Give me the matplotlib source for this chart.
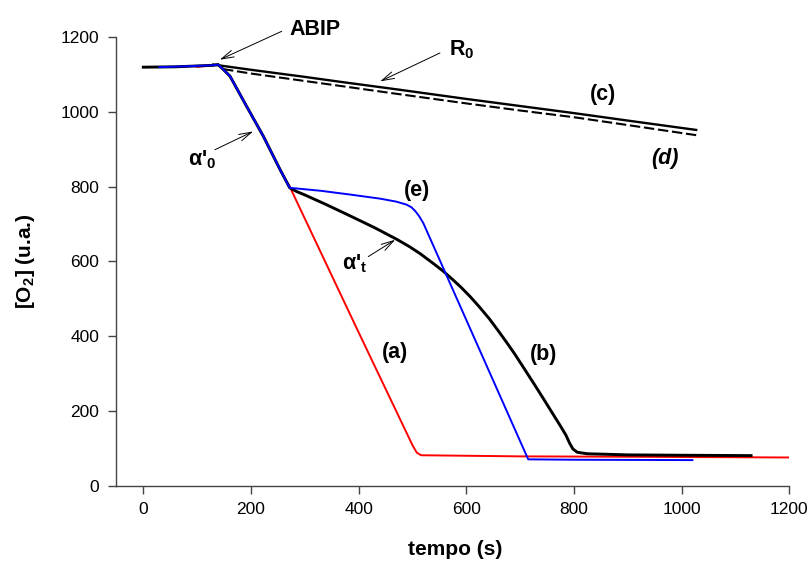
import matplotlib
matplotlib.use("Agg")
import matplotlib.pyplot as plt

plt.rcParams.update({
    "font.family": ["Liberation Sans", "DejaVu Sans"],
    "mathtext.fontset": "custom",
    "mathtext.rm": "Liberation Sans",
    "mathtext.it": "Liberation Sans:italic",
    "mathtext.bf": "Liberation Sans:bold",
    "mathtext.default": "bf",
})

# curve (a) - red
t_a = [100, 130, 139, 150, 161, 192, 223, 254, 272, 400, 500, 508, 516, 700, 900, 1200]
o2_a = [1121, 1125, 1127, 1112, 1096, 1015, 935, 846, 800, 410, 108, 88, 81, 78, 77, 75]

# curve (b) - black
t_b = [0, 60, 130, 139, 150, 161, 192, 223, 254, 272, 285, 300, 340, 384, 430, 471,
       495, 515, 540, 557, 575, 590, 607, 625, 643, 660, 675, 690, 708, 725, 743, 762,
       775, 785, 792, 798, 806, 825, 900, 1000, 1129]
o2_b = [1120, 1121, 1125, 1127, 1112, 1096, 1015, 935, 846, 797, 787, 778, 752, 722,
        690, 659, 639, 620, 593, 574, 551, 531, 506, 477, 446, 413, 383, 352, 312, 274,
        233, 189, 159, 135, 113, 98, 89, 85, 82, 81, 80]

# curve (e) - blue
t_e = [30, 130, 139, 150, 161, 192, 223, 254, 272, 330, 384, 440, 470, 489, 498, 505,
       512, 520, 715, 800, 1020]
o2_e = [1120, 1125, 1127, 1112, 1096, 1015, 935, 846, 797, 789, 779, 768, 760, 752,
        745, 735, 722, 703, 70, 69, 68]

# curves (c) solid and (d) dashed
t_c = [130, 200, 300, 365, 474, 600, 700, 800, 900, 1027]
o2_c = [1127, 1113, 1094, 1081, 1060, 1035, 1016, 997, 977, 952]
t_d = [148, 200, 300, 365, 474, 600, 700, 800, 900, 1027]
o2_d = [1115, 1103, 1083, 1070, 1048, 1023, 1004, 986, 965, 938]

fig = plt.figure(figsize=(8.12, 5.64), dpi=100)
ax = fig.add_axes([116 / 812, 1 - 485.5 / 564, (789.3 - 116) / 812, (485.5 - 37.3) / 564])

ax.plot(t_c, o2_c, color="black", lw=1.7)
ax.plot(t_d, o2_d, color="black", lw=1.5, dashes=(5, 1.8))
ax.plot(t_a, o2_a, color="#ff0000", lw=1.4)
ax.plot(t_b, o2_b, color="black", lw=2.1)
ax.plot(t_e, o2_e, color="#0000ff", lw=1.4)

ax.set_xlim(-50.7, 1200)
ax.set_ylim(0, 1200)
ax.set_xticks(range(0, 1201, 200))
ax.set_yticks(range(0, 1201, 200))
for s in ["top", "right"]:
    ax.spines[s].set_visible(False)
for s in ["left", "bottom"]:
    ax.spines[s].set_color("#444444")
    ax.spines[s].set_linewidth(1.0)
ax.tick_params(direction="out", length=6, width=1.0, color="#444444",
               labelsize=12.5, pad=6)

ax.set_xlabel("tempo (s)", fontsize=15, fontweight="bold")
ax.set_ylabel("[O$_2$] (u.a.)", fontsize=15, fontweight="bold")
ax.xaxis.set_label_coords(0.504, -0.122)
ax.yaxis.set_label_coords(-0.118, 0.5)

arrow = dict(arrowstyle="->, head_length=0.9, head_width=0.25", lw=0.7,
             color="black", shrinkA=0, shrinkB=0)
fs = 15.5

def note(text, xy, xytext, ha="left", **kw):
    ax.annotate("", xy=xy, xytext=xytext, arrowprops=arrow, annotation_clip=False)
    ax.text(*kw.pop("pos"), text, ha=ha, va="center", fontsize=fs,
            fontweight="bold", **kw)

note("ABIP", (142, 1140), (257, 1216), pos=(272, 1220))
note("R$_0$", (440, 1082), (551, 1158), pos=(568, 1168))
note("α'$_0$", (204, 948), (133, 899), ha="center", pos=(109, 872))
note("α'$_t$", (468, 658), (418, 613), ha="center", pos=(393, 594))

ax.text(854, 1047, "(c)", ha="center", va="center", fontsize=fs, fontweight="bold")
ax.text(969, 875, "(d)", ha="center", va="center", fontsize=fs, fontweight="bold",
        style="italic")
ax.text(508, 789, "(e)", ha="center", va="center", fontsize=fs, fontweight="bold")
ax.text(468, 355, "(a)", ha="center", va="center", fontsize=fs, fontweight="bold")
ax.text(744, 350, "(b)", ha="center", va="center", fontsize=fs, fontweight="bold")

fig.savefig("out.png", dpi=100)
